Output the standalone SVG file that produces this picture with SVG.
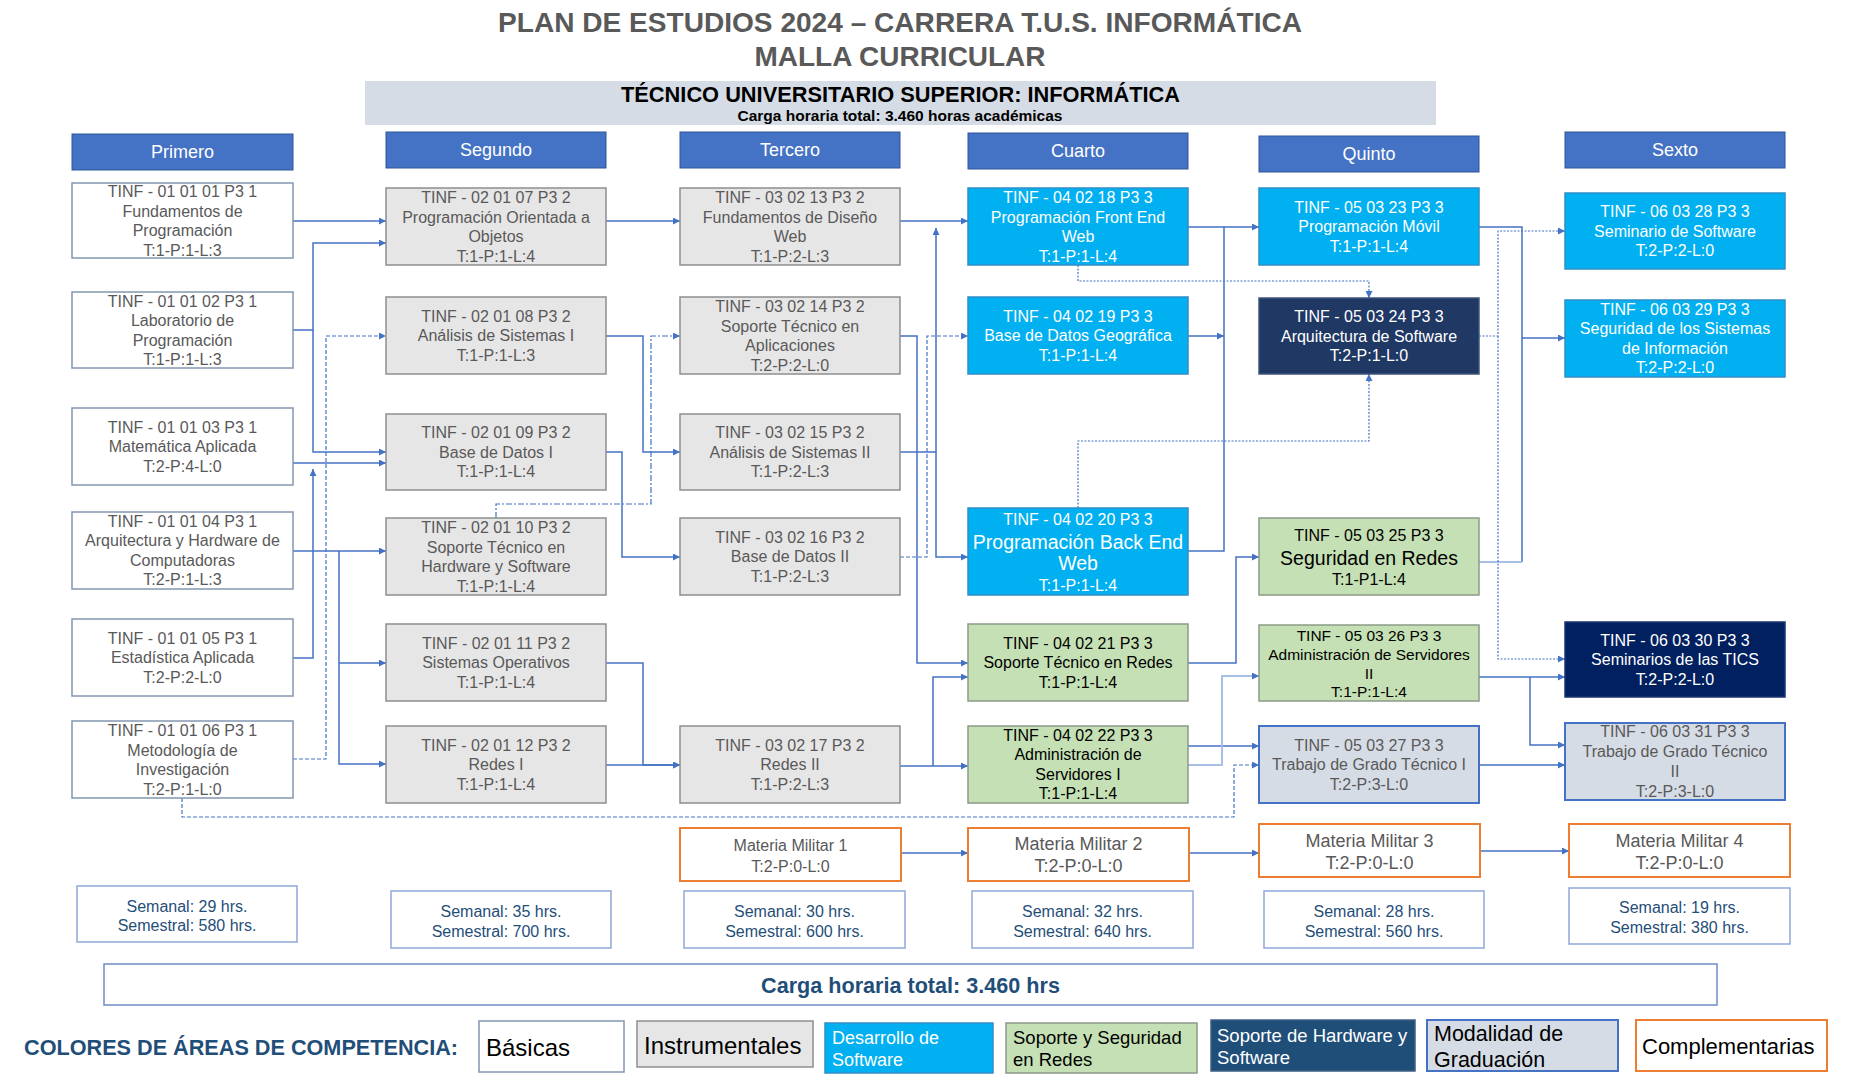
<svg xmlns="http://www.w3.org/2000/svg" width="1850" height="1081" viewBox="0 0 1850 1081">
<style>
text{font-family:"Liberation Sans",Arial,sans-serif}
.t{font-size:16px;text-anchor:middle;fill:#595959}
.t18{font-size:18px}
.t145{font-size:15.5px}
.tw{fill:#fff}
.tk{fill:#000}
.hd rect{fill:#4472C4;stroke:#2F5597;stroke-width:1}
.hd text{font-size:18px;text-anchor:middle;fill:#fff}
.bas{fill:#fff;stroke:#8497B0;stroke-width:1.5}
.ins{fill:#E7E6E6;stroke:#8E8E8E;stroke-width:1.5}
.dev{fill:#00B0F0;stroke:#2E8FC8;stroke-width:1.5}
.net{fill:#C5E0B4;stroke:#8C9A88;stroke-width:1.5}
.hw{fill:#203864;stroke:#40547C;stroke-width:1.5}
.hw2{fill:#002060;stroke:#1A3470;stroke-width:1.5}
.grd{fill:#D6DCE5;stroke:#4472C4;stroke-width:2}
.cmp{fill:#fff;stroke:#ED7D31;stroke-width:2}
.hr{fill:#fff;stroke:#8EA9DB;stroke-width:1.5}
.hrt{font-size:16px;text-anchor:middle;fill:#1F4E79}
.c path{fill:none;stroke:#4472C4;stroke-width:1.5;marker-end:url(#a)}
.c path.n{marker-end:none}
.c path.l{stroke:#A9C0E6;stroke-width:2}
.c path.d{stroke-width:1.2;stroke-dasharray:4 2}
.c path.dd{stroke-width:1.2;stroke-dasharray:6 2 2 2}
.c path.dt{stroke-width:1.2;stroke-dasharray:2 1.5}
</style>
<defs>
<marker id="a" markerUnits="userSpaceOnUse" markerWidth="7" markerHeight="7" refX="7" refY="3.5" orient="auto"><path d="M0,0 L7,3.5 L0,7 z" fill="#4472C4"/></marker>
</defs>
<rect width="1850" height="1081" fill="#fff"/>

<g id="title">
<text x="900" y="32" font-size="28" font-weight="bold" fill="#595959" text-anchor="middle" textLength="804" lengthAdjust="spacingAndGlyphs">PLAN DE ESTUDIOS 2024 – CARRERA T.U.S. INFORMÁTICA</text>
<text x="900" y="66" font-size="28" font-weight="bold" fill="#595959" text-anchor="middle" textLength="291" lengthAdjust="spacingAndGlyphs">MALLA CURRICULAR</text>
</g>
<g id="banner">
<rect x="365" y="81" width="1071" height="44" fill="#D6DCE5"/>
<text x="900.5" y="102" font-size="21.5" font-weight="bold" fill="#000" text-anchor="middle" textLength="559" lengthAdjust="spacingAndGlyphs">TÉCNICO UNIVERSITARIO SUPERIOR: INFORMÁTICA</text>
<text x="900" y="121" font-size="15" font-weight="bold" fill="#000" text-anchor="middle" textLength="325" lengthAdjust="spacingAndGlyphs">Carga horaria total: 3.460 horas académicas</text>
</g>

<g class="hd">
<g id="h1"><rect x="72" y="134" width="221" height="36"/><text x="182.5" y="158">Primero</text></g>
<g id="h2"><rect x="386" y="132" width="220" height="36"/><text x="496" y="156">Segundo</text></g>
<g id="h3"><rect x="680" y="132" width="220" height="36"/><text x="790" y="156">Tercero</text></g>
<g id="h4"><rect x="968" y="133" width="220" height="36"/><text x="1078" y="157">Cuarto</text></g>
<g id="h5"><rect x="1259" y="136" width="220" height="36"/><text x="1369" y="160">Quinto</text></g>
<g id="h6"><rect x="1565" y="132" width="220" height="36"/><text x="1675" y="156">Sexto</text></g>
</g>

<g id="connectors" class="c">
<path d="M293,221 H386"/>
<path d="M606,221 H680"/>
<path d="M900,221 H968"/>
<path d="M900,452 H936 V228"/>
<path d="M936,452 V557 H968"/>
<path d="M606,336 H643 V452 H680"/>
<path d="M606,452 H622 V557 H680"/>
<path d="M900,336 H917 V663 H968"/>
<path d="M900,766 H968"/>
<path d="M933,766 V677 H968"/>
<path d="M606,663 H643 V765 H680"/>
<path d="M606,765 H680"/>
<path d="M293,330 H313 V243 H386"/>
<path d="M313,330 V452 H386"/>
<path d="M293,463 H386"/>
<path d="M293,658 H313 V469"/>
<path d="M293,551 H386"/>
<path d="M339,551 V764 H386"/>
<path d="M339,663 H386"/>
<path d="M1188,227 H1259"/>
<path class="n" d="M1188,551 H1224 V227"/>
<path d="M1188,336 H1224"/>
<path d="M1188,663 H1236 V557 H1259"/>
<path d="M1188,746 H1259"/>
<path class="l" d="M1188,765 H1222 V676 H1259"/>
<path class="n" d="M1479,227 H1522 V562"/>
<path d="M1522,338 H1565"/>
<path class="l n" d="M1479,562 H1522"/>
<path d="M1479,677 H1565"/>
<path d="M1530,677 V745 H1565"/>
<path d="M1479,765 H1565"/>
<path d="M901,853 H968"/>
<path d="M1189,853 H1259"/>
<path d="M1480,851 H1569"/>
<path class="dd" d="M496,518 V504 H651 V336 H680"/>
<path class="d" d="M900,557 H927 V336 H968"/>
<path class="d" d="M293,759 H326 V336 H386"/>
<path class="d" d="M182,798 V817 H1234 V765 H1259"/>
<path class="dt" d="M1078,265 V281 H1369 V298"/>
<path class="dt" d="M1078,508 V441 H1369 V374"/>
<path class="dt" d="M1479,336 H1498 V231 H1565"/>
<path class="dt" d="M1498,336 V659 H1565"/>
</g>

<g id="n010101"><rect class="bas" x="72" y="183" width="221" height="75"/><text class="t"><tspan x="182.5" y="197">TINF - 01 01 01 P3 1</tspan><tspan x="182.5" y="217">Fundamentos de</tspan><tspan x="182.5" y="236">Programación</tspan><tspan x="182.5" y="256">T:1-P:1-L:3</tspan></text></g>
<g id="n010102"><rect class="bas" x="72" y="292" width="221" height="76"/><text class="t"><tspan x="182.5" y="307">TINF - 01 01 02 P3 1</tspan><tspan x="182.5" y="326">Laboratorio de</tspan><tspan x="182.5" y="346">Programación</tspan><tspan x="182.5" y="365">T:1-P:1-L:3</tspan></text></g>
<g id="n010103"><rect class="bas" x="72" y="408" width="221" height="77"/><text class="t"><tspan x="182.5" y="433">TINF - 01 01 03 P3 1</tspan><tspan x="182.5" y="452">Matemática Aplicada</tspan><tspan x="182.5" y="472">T:2-P:4-L:0</tspan></text></g>
<g id="n010104"><rect class="bas" x="72" y="512" width="221" height="77"/><text class="t"><tspan x="182.5" y="527">TINF - 01 01 04 P3 1</tspan><tspan x="182.5" y="546">Arquitectura y Hardware de</tspan><tspan x="182.5" y="566">Computadoras</tspan><tspan x="182.5" y="585">T:2-P:1-L:3</tspan></text></g>
<g id="n010105"><rect class="bas" x="72" y="619" width="221" height="77"/><text class="t"><tspan x="182.5" y="644">TINF - 01 01 05 P3 1</tspan><tspan x="182.5" y="663">Estadística Aplicada</tspan><tspan x="182.5" y="683">T:2-P:2-L:0</tspan></text></g>
<g id="n010106"><rect class="bas" x="72" y="721" width="221" height="77"/><text class="t"><tspan x="182.5" y="736">TINF - 01 01 06 P3 1</tspan><tspan x="182.5" y="756">Metodología de</tspan><tspan x="182.5" y="775">Investigación</tspan><tspan x="182.5" y="795">T:2-P:1-L:0</tspan></text></g>

<g id="n020107"><rect class="ins" x="386" y="188" width="220" height="77"/><text class="t"><tspan x="496" y="203">TINF - 02 01 07 P3 2</tspan><tspan x="496" y="223">Programación Orientada a</tspan><tspan x="496" y="242">Objetos</tspan><tspan x="496" y="262">T:1-P:1-L:4</tspan></text></g>
<g id="n020108"><rect class="ins" x="386" y="297" width="220" height="77"/><text class="t"><tspan x="496" y="322">TINF - 02 01 08 P3 2</tspan><tspan x="496" y="341">Análisis de Sistemas I</tspan><tspan x="496" y="361">T:1-P:1-L:3</tspan></text></g>
<g id="n020109"><rect class="ins" x="386" y="414" width="220" height="76"/><text class="t"><tspan x="496" y="438">TINF - 02 01 09 P3 2</tspan><tspan x="496" y="458">Base de Datos I</tspan><tspan x="496" y="477">T:1-P:1-L:4</tspan></text></g>
<g id="n020110"><rect class="ins" x="386" y="518" width="220" height="77"/><text class="t"><tspan x="496" y="533">TINF - 02 01 10 P3 2</tspan><tspan x="496" y="553">Soporte Técnico en</tspan><tspan x="496" y="572">Hardware y Software</tspan><tspan x="496" y="592">T:1-P:1-L:4</tspan></text></g>
<g id="n020111"><rect class="ins" x="386" y="624" width="220" height="77"/><text class="t"><tspan x="496" y="649">TINF - 02 01 11 P3 2</tspan><tspan x="496" y="668">Sistemas Operativos</tspan><tspan x="496" y="688">T:1-P:1-L:4</tspan></text></g>
<g id="n020112"><rect class="ins" x="386" y="726" width="220" height="77"/><text class="t"><tspan x="496" y="751">TINF - 02 01 12 P3 2</tspan><tspan x="496" y="770">Redes I</tspan><tspan x="496" y="790">T:1-P:1-L:4</tspan></text></g>

<g id="n030213"><rect class="ins" x="680" y="188" width="220" height="77"/><text class="t"><tspan x="790" y="203">TINF - 03 02 13 P3 2</tspan><tspan x="790" y="223">Fundamentos de Diseño</tspan><tspan x="790" y="242">Web</tspan><tspan x="790" y="262">T:1-P:2-L:3</tspan></text></g>
<g id="n030214"><rect class="ins" x="680" y="297" width="220" height="77"/><text class="t"><tspan x="790" y="312">TINF - 03 02 14 P3 2</tspan><tspan x="790" y="332">Soporte Técnico en</tspan><tspan x="790" y="351">Aplicaciones</tspan><tspan x="790" y="371">T:2-P:2-L:0</tspan></text></g>
<g id="n030215"><rect class="ins" x="680" y="414" width="220" height="76"/><text class="t"><tspan x="790" y="438">TINF - 03 02 15 P3 2</tspan><tspan x="790" y="458">Análisis de Sistemas II</tspan><tspan x="790" y="477">T:1-P:2-L:3</tspan></text></g>
<g id="n030216"><rect class="ins" x="680" y="518" width="220" height="77"/><text class="t"><tspan x="790" y="543">TINF - 03 02 16 P3 2</tspan><tspan x="790" y="562">Base de Datos II</tspan><tspan x="790" y="582">T:1-P:2-L:3</tspan></text></g>
<g id="n030217"><rect class="ins" x="680" y="726" width="220" height="77"/><text class="t"><tspan x="790" y="751">TINF - 03 02 17 P3 2</tspan><tspan x="790" y="770">Redes II</tspan><tspan x="790" y="790">T:1-P:2-L:3</tspan></text></g>
<g id="mm1"><rect class="cmp" x="680" y="828" width="221" height="53"/><text class="t"><tspan x="790.5" y="851">Materia Militar 1</tspan><tspan x="790.5" y="872">T:2-P:0-L:0</tspan></text></g>

<g id="n040218"><rect class="dev" x="968" y="188" width="220" height="77"/><text class="t tw"><tspan x="1078" y="203">TINF - 04 02 18 P3 3</tspan><tspan x="1078" y="223">Programación Front End</tspan><tspan x="1078" y="242">Web</tspan><tspan x="1078" y="262">T:1-P:1-L:4</tspan></text></g>
<g id="n040219"><rect class="dev" x="968" y="297" width="220" height="77"/><text class="t tw"><tspan x="1078" y="322">TINF - 04 02 19 P3 3</tspan><tspan x="1078" y="341">Base de Datos Geográfica</tspan><tspan x="1078" y="361">T:1-P:1-L:4</tspan></text></g>
<g id="n040220"><rect class="dev" x="968" y="508" width="220" height="87"/><text class="t tw"><tspan x="1078" y="525">TINF - 04 02 20 P3 3</tspan><tspan x="1078" y="549" font-size="19.5">Programación Back End</tspan><tspan x="1078" y="570" font-size="19.5">Web</tspan><tspan x="1078" y="591">T:1-P:1-L:4</tspan></text></g>
<g id="n040221"><rect class="net" x="968" y="624" width="220" height="77"/><text class="t tk"><tspan x="1078" y="649">TINF - 04 02 21 P3 3</tspan><tspan x="1078" y="668">Soporte Técnico en Redes</tspan><tspan x="1078" y="688">T:1-P:1-L:4</tspan></text></g>
<g id="n040222"><rect class="net" x="968" y="726" width="220" height="77"/><text class="t tk"><tspan x="1078" y="741">TINF - 04 02 22 P3 3</tspan><tspan x="1078" y="760">Administración de</tspan><tspan x="1078" y="780">Servidores I</tspan><tspan x="1078" y="799">T:1-P:1-L:4</tspan></text></g>
<g id="mm2"><rect class="cmp" x="968" y="828" width="221" height="53"/><text class="t t18"><tspan x="1078.5" y="850">Materia Militar 2</tspan><tspan x="1078.5" y="872">T:2-P:0-L:0</tspan></text></g>

<g id="n050323"><rect class="dev" x="1259" y="188" width="220" height="77"/><text class="t tw"><tspan x="1369" y="213">TINF - 05 03 23 P3 3</tspan><tspan x="1369" y="232">Programación Móvil</tspan><tspan x="1369" y="252">T:1-P:1-L:4</tspan></text></g>
<g id="n050324"><rect class="hw" x="1259" y="298" width="220" height="76"/><text class="t tw"><tspan x="1369" y="322">TINF - 05 03 24 P3 3</tspan><tspan x="1369" y="342">Arquitectura de Software</tspan><tspan x="1369" y="361">T:2-P:1-L:0</tspan></text></g>
<g id="n050325"><rect class="net" x="1259" y="518" width="220" height="77"/><text class="t tk"><tspan x="1369" y="541">TINF - 05 03 25 P3 3</tspan><tspan x="1369" y="565" font-size="19.5">Seguridad en Redes</tspan><tspan x="1369" y="585">T:1-P1-L:4</tspan></text></g>
<g id="n050326"><rect class="net" x="1259" y="625" width="220" height="76"/><text class="t tk t145"><tspan x="1369" y="641">TINF - 05 03 26 P3 3</tspan><tspan x="1369" y="660">Administración de Servidores</tspan><tspan x="1369" y="679">II</tspan><tspan x="1369" y="697">T:1-P:1-L:4</tspan></text></g>
<g id="n050327"><rect class="grd" x="1259" y="726" width="220" height="77"/><text class="t"><tspan x="1369" y="751">TINF - 05 03 27 P3 3</tspan><tspan x="1369" y="770">Trabajo de Grado Técnico I</tspan><tspan x="1369" y="790">T:2-P:3-L:0</tspan></text></g>
<g id="mm3"><rect class="cmp" x="1259" y="824" width="221" height="53"/><text class="t t18"><tspan x="1369.5" y="847">Materia Militar 3</tspan><tspan x="1369.5" y="869">T:2-P:0-L:0</tspan></text></g>

<g id="n060328"><rect class="dev" x="1565" y="193" width="220" height="76"/><text class="t tw"><tspan x="1675" y="217">TINF - 06 03 28 P3 3</tspan><tspan x="1675" y="237">Seminario de Software</tspan><tspan x="1675" y="256">T:2-P:2-L:0</tspan></text></g>
<g id="n060329"><rect class="dev" x="1565" y="300" width="220" height="77"/><text class="t tw"><tspan x="1675" y="315">TINF - 06 03 29 P3 3</tspan><tspan x="1675" y="334">Seguridad de los Sistemas</tspan><tspan x="1675" y="354">de Información</tspan><tspan x="1675" y="373">T:2-P:2-L:0</tspan></text></g>
<g id="n060330"><rect class="hw2" x="1565" y="622" width="220" height="75"/><text class="t tw"><tspan x="1675" y="646">TINF - 06 03 30 P3 3</tspan><tspan x="1675" y="665">Seminarios de las TICS</tspan><tspan x="1675" y="685">T:2-P:2-L:0</tspan></text></g>
<g id="n060331"><rect class="grd" x="1565" y="723" width="220" height="77"/><text class="t"><tspan x="1675" y="737">TINF - 06 03 31 P3 3</tspan><tspan x="1675" y="757">Trabajo de Grado Técnico</tspan><tspan x="1675" y="777">II</tspan><tspan x="1675" y="797">T:2-P:3-L:0</tspan></text></g>
<g id="mm4"><rect class="cmp" x="1569" y="824" width="221" height="53"/><text class="t t18"><tspan x="1679.5" y="847">Materia Militar 4</tspan><tspan x="1679.5" y="869">T:2-P:0-L:0</tspan></text></g>

<g id="hours">
<g id="hrs1"><rect class="hr" x="77" y="886" width="220" height="56"/><text class="hrt"><tspan x="187" y="912">Semanal: 29 hrs.</tspan><tspan x="187" y="931">Semestral: 580 hrs.</tspan></text></g>
<g id="hrs2"><rect class="hr" x="391" y="891" width="220" height="57"/><text class="hrt"><tspan x="501" y="917">Semanal: 35 hrs.</tspan><tspan x="501" y="937">Semestral: 700 hrs.</tspan></text></g>
<g id="hrs3"><rect class="hr" x="684" y="891" width="221" height="57"/><text class="hrt"><tspan x="794.5" y="917">Semanal: 30 hrs.</tspan><tspan x="794.5" y="937">Semestral: 600 hrs.</tspan></text></g>
<g id="hrs4"><rect class="hr" x="972" y="891" width="221" height="57"/><text class="hrt"><tspan x="1082.5" y="917">Semanal: 32 hrs.</tspan><tspan x="1082.5" y="937">Semestral: 640 hrs.</tspan></text></g>
<g id="hrs5"><rect class="hr" x="1264" y="891" width="220" height="57"/><text class="hrt"><tspan x="1374" y="917">Semanal: 28 hrs.</tspan><tspan x="1374" y="937">Semestral: 560 hrs.</tspan></text></g>
<g id="hrs6"><rect class="hr" x="1569" y="888" width="221" height="56"/><text class="hrt"><tspan x="1679.5" y="913">Semanal: 19 hrs.</tspan><tspan x="1679.5" y="933">Semestral: 380 hrs.</tspan></text></g>
</g>

<g id="total"><rect x="104" y="964" width="1613" height="41" fill="#fff" stroke="#6F8BC6" stroke-width="1.5"/><text x="910.5" y="993" font-size="21.6" font-weight="bold" fill="#1F4E79" text-anchor="middle">Carga horaria total: 3.460 hrs</text></g>

<g id="legend">
<text x="24" y="1055" font-size="21.4" font-weight="bold" fill="#1F4E79" textLength="434" lengthAdjust="spacingAndGlyphs">COLORES DE ÁREAS DE COMPETENCIA:</text>
<g id="lg1"><rect class="bas" x="479" y="1021" width="145" height="51" stroke="#8C8C8C"/><text x="486" y="1056" font-size="24" fill="#000">Básicas</text></g>
<g id="lg2"><rect class="ins" x="637" y="1021" width="176" height="46"/><text x="644" y="1054" font-size="24" fill="#000">Instrumentales</text></g>
<g id="lg3"><rect class="dev" x="825" y="1023" width="168" height="50"/><text font-size="18" fill="#fff"><tspan x="832" y="1044">Desarrollo de</tspan><tspan x="832" y="1066">Software</tspan></text></g>
<g id="lg4"><rect class="net" x="1006" y="1023" width="191" height="50"/><text font-size="18.5" fill="#000"><tspan x="1013" y="1044">Soporte y Seguridad</tspan><tspan x="1013" y="1066">en Redes</tspan></text></g>
<g id="lg5"><rect x="1211" y="1020" width="204" height="51" fill="#1F4E79" stroke="#3F5F86" stroke-width="1.5"/><text font-size="18.5" fill="#fff"><tspan x="1217" y="1042">Soporte de Hardware y</tspan><tspan x="1217" y="1064">Software</tspan></text></g>
<g id="lg6"><rect class="grd" x="1427" y="1020" width="191" height="51"/><text font-size="21.5" fill="#000"><tspan x="1434" y="1041">Modalidad de</tspan><tspan x="1434" y="1067">Graduación</tspan></text></g>
<g id="lg7"><rect class="cmp" x="1636" y="1020" width="191" height="51"/><text x="1642" y="1054" font-size="22" fill="#000">Complementarias</text></g>
</g>
</svg>
